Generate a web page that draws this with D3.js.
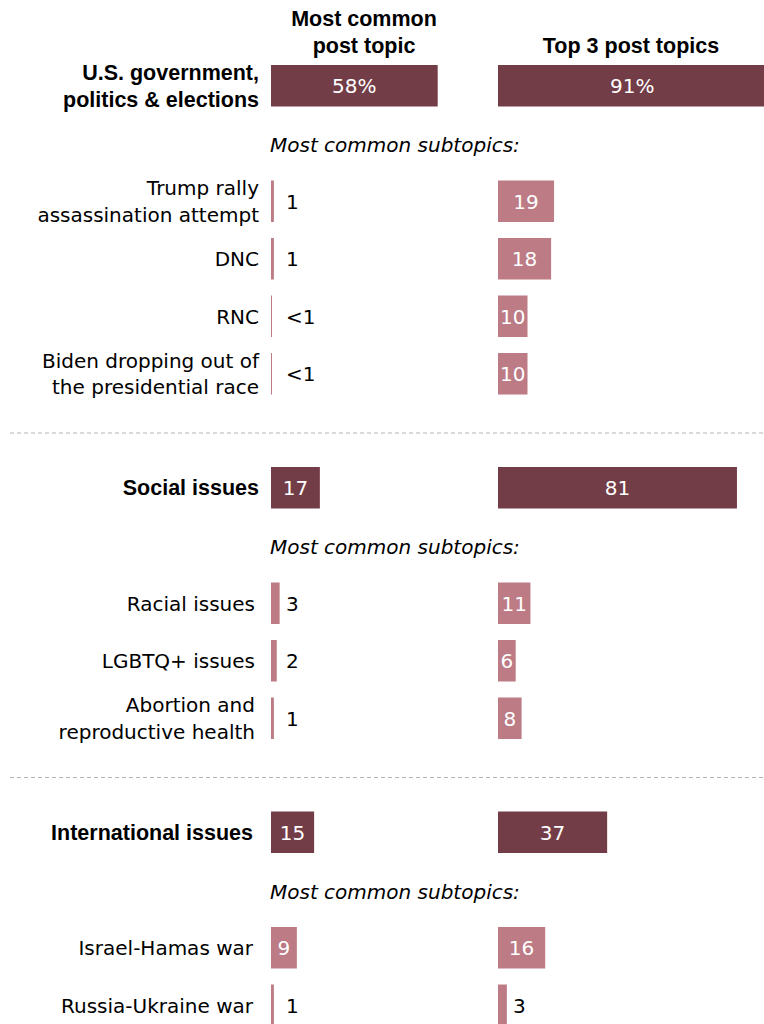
<!DOCTYPE html>
<html>
<head>
<meta charset="utf-8">
<script src="https://cdn.jsdelivr.net/npm/d3@7"></script>
<style>
  html, body { margin: 0; padding: 0; background: #fff; }
  svg { display: block; }
</style>
</head>
<body>
<div id="chart"></div>
<script>
// ---- Data ----
const columnTitles = ["Most common\npost topic", "Top 3 post topics"];
const sections = ["U.S. government,\npolitics & elections", "Social issues", "International issues"];
const sectionMostCommon = [58, 17, 15];
const sectionTop3 = [91, 81, 37];
const sectionMostCommonLabels = ["58%", "17", "15"];
const sectionTop3Labels = ["91%", "81", "37"];
const subtitle = "Most common subtopics:";
const subtopics = [
  "Trump rally\nassassination attempt", "DNC", "RNC", "Biden dropping out of\nthe presidential race",
  "Racial issues", "LGBTQ+ issues", "Abortion and\nreproductive health",
  "Israel-Hamas war", "Russia-Ukraine war"
];
const subtopicSection = [0, 0, 0, 0, 1, 1, 1, 2, 2];
const subMostCommon = [1, 1, 0.35, 0.35, 3, 2, 1, 9, 1];
const subMostCommonLabels = ["1", "1", "<1", "<1", "3", "2", "1", "9", "1"];
const subTop3 = [19, 18, 10, 10, 11, 6, 8, 16, 3];
const subTop3Labels = ["19", "18", "10", "10", "11", "6", "8", "16", "3"];

// ---- Layout ----
const W = 764, H = 1024;
const darkColor = "#733d47";
const lightColor = "#bc7b85";
const boldFont = "'Liberation Sans', Arial, sans-serif";
const regFont = "'DejaVu Sans', sans-serif";
const fs = 20;

const xLeft = d3.scaleLinear().domain([0, 100]).range([271, 271 + 287.4]);
const xRight = d3.scaleLinear().domain([0, 100]).range([498, 498 + 295]);
const barH = 41.5, subStep = 57.5;
const mainLabelRight = [259, 259, 253];
const subLabelRight = [259, 255, 253];

const svg = d3.select("#chart").append("svg").attr("width", W).attr("height", H);

// compute vertical positions
const rows = [];
let y = 65;
const dividers = [];
sections.forEach((s, si) => {
  rows.push({ type: "main", si, y });
  rows.push({ type: "subtitle", si, y: y + 87 });
  const subs = subtopics.map((d, i) => i).filter(i => subtopicSection[i] === si);
  const subStart = y + 115.5;
  subs.forEach((i, k) => rows.push({ type: "sub", si, i, y: subStart + k * subStep }));
  const lastBottom = subStart + (subs.length - 1) * subStep + barH;
  if (si < sections.length - 1) {
    const dy = lastBottom + 38.5;
    dividers.push(dy);
    y = dy + 34;
  }
});

// column headers
columnTitles.forEach((t, ci) => {
  const lines = t.split("\n");
  const cx = ci === 0 ? 364 : 631;
  const txt = svg.append("text")
    .attr("text-anchor", "middle")
    .attr("font-family", boldFont).attr("font-weight", "bold").attr("font-size", 21.5)
    .attr("fill", "#000");
  lines.forEach((l, li) => {
    txt.append("tspan").attr("x", cx).attr("y", 52.5 - (lines.length - 1 - li) * 27).text(l);
  });
});

// dividers
svg.selectAll("line.div").data(dividers).join("line")
  .attr("class", "div")
  .attr("x1", 10).attr("x2", W).attr("y1", d => d).attr("y2", d => d)
  .attr("stroke", "#b3b3b3").attr("stroke-width", 1).attr("stroke-dasharray", "4,3");

function multiLineLabel(g, text, x, cy, font, weight, size, lh, off) {
  const lines = text.split("\n");
  const t = g.append("text").attr("text-anchor", "end")
    .attr("font-family", font).attr("font-weight", weight).attr("font-size", size).attr("fill", "#000");
  const n = lines.length;
  lines.forEach((l, li) => {
    t.append("tspan").attr("x", x).attr("y", cy + off + (li - (n - 1) / 2) * lh).text(l);
  });
}

function drawBar(g, scale, value, label, top, color, inside) {
  const x0 = scale(0), w = scale(value) - scale(0);
  g.append("rect").attr("x", x0).attr("y", top).attr("width", w).attr("height", barH).attr("fill", color);
  const cy = top + barH / 2 + 7.3;
  if (inside) {
    g.append("text").attr("x", x0 + w / 2).attr("y", cy).attr("text-anchor", "middle")
      .attr("font-family", regFont).attr("font-size", fs).attr("fill", "#fff").text(label);
  } else {
    g.append("text").attr("x", x0 + 15).attr("y", cy).attr("text-anchor", "start")
      .attr("font-family", regFont).attr("font-size", fs).attr("fill", "#000").text(label);
  }
}

const g = svg.append("g");
rows.forEach(r => {
  if (r.type === "main") {
    multiLineLabel(g, sections[r.si], mainLabelRight[r.si], r.y + barH / 2, boldFont, "bold", 21.5, 27, 7.7);
    drawBar(g, xLeft, sectionMostCommon[r.si], sectionMostCommonLabels[r.si], r.y, darkColor, true);
    drawBar(g, xRight, sectionTop3[r.si], sectionTop3Labels[r.si], r.y, darkColor, true);
  } else if (r.type === "subtitle") {
    g.append("text").attr("x", 270).attr("y", r.y)
      .attr("font-family", regFont).attr("font-style", "italic").attr("font-size", fs)
      .attr("fill", "#000").text(subtitle);
  } else {
    const i = r.i;
    multiLineLabel(g, subtopics[i], subLabelRight[r.si], r.y + barH / 2, regFont, "normal", fs, 26.5, 7.3);
    drawBar(g, xLeft, subMostCommon[i], subMostCommonLabels[i], r.y, lightColor, subMostCommon[i] >= 6);
    drawBar(g, xRight, subTop3[i], subTop3Labels[i], r.y, lightColor, subTop3[i] >= 6);
  }
});
</script>
</body>
</html>
